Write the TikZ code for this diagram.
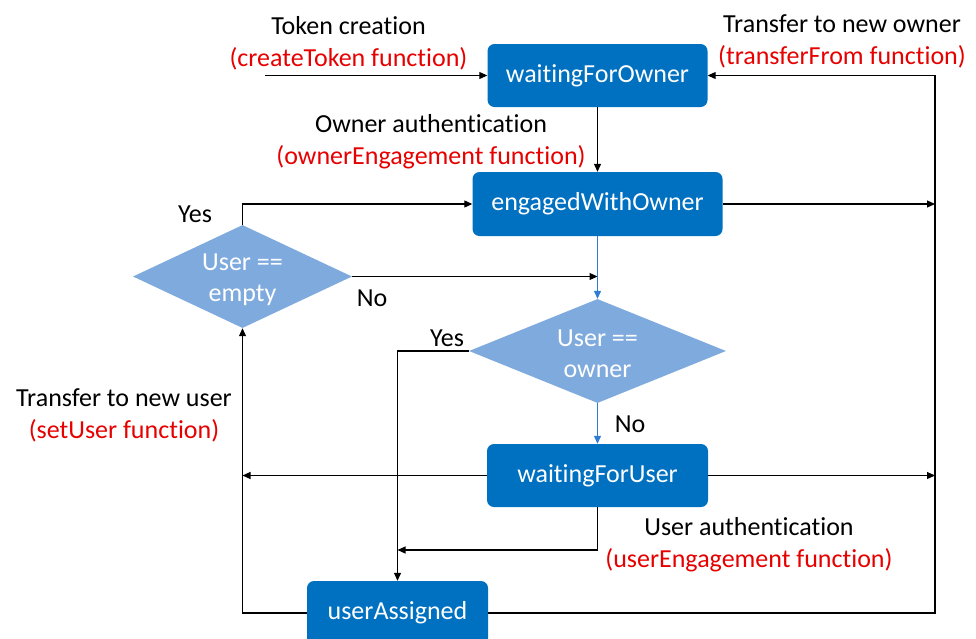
\documentclass[tikz,border=0pt]{standalone}
\usepackage{fontspec}
\setmainfont{Carlito}[Ligatures=NoCommon]
\usetikzlibrary{shapes.geometric,arrows.meta}
\definecolor{boxblue}{RGB}{0,112,192}
\definecolor{diablue}{RGB}{127,170,221}
\definecolor{flowblue}{RGB}{46,125,210}
\definecolor{fnred}{RGB}{230,0,0}

\begin{document}
\begin{tikzpicture}[x=1pt,y=-1pt,
  every node/.style={font=\fontsize{26}{32}\selectfont},
  state/.style={fill=boxblue, rounded corners=7pt, text=white, minimum height=63pt, inner sep=0pt},
  decision/.style={diamond, fill=diablue, inner sep=0pt},
  dtext/.style={text=white, align=center, inner sep=0pt, font=\fontsize{26}{31}\selectfont},
  conn/.style={line width=1.1pt, -{Triangle[length=8pt,width=7pt]}},
  lbl/.style={align=center, inner sep=0pt}]

\useasboundingbox (0,0) rectangle (976,638);
\clip (0,0) rectangle (976,638);

% states and decisions
\node[state, minimum width=220pt] (wfo) at (597.5,75.5) {waitingForOwner};
\node[state, minimum width=250pt, minimum height=64pt] (ewo) at (597.5,204) {engagedWithOwner};
\node[decision, minimum width=219pt, minimum height=103pt] (dEmpty) at (242.5,276.5) {};
\node[dtext] (tEmpty) at ([yshift=-3pt]dEmpty.center) {User ==\\empty};
\node[decision, minimum width=257pt, minimum height=104pt] (dOwner) at (597.5,351) {};
\node[dtext] (tOwner) at ([yshift=-3pt]dOwner.center) {User ==\\owner};
\node[state, minimum width=221pt] (wfu) at (597.5,475.5) {waitingForUser};
\node[state, minimum width=181pt, minimum height=64pt] (ua) at (397.5,613) {userAssigned};

% free ends and junctions
\coordinate (tokIn) at (265,75.5);
\coordinate (rtop) at (935,75.5);
\coordinate (join) at (397.5,550);

% connectors
\draw[conn] (tokIn) -- (wfo.west);
\draw[conn] (wfo.south) -- (ewo.north);
\draw[conn] (ua.east) -| (rtop) -- (wfo.east);
\draw[conn] (ewo.east) -- (ewo.east -| rtop);
\draw[conn] (wfu.east) -- (wfu.east -| rtop);
\draw[conn] (dEmpty.north) |- (ewo.west);
\draw[conn] (dEmpty.east) -- (dEmpty.east -| ewo.south);
\draw[conn, flowblue] (ewo.south) -- (dOwner.north);
\draw[conn, flowblue] (dOwner.south) -- (wfu.north);
\draw[conn] (dOwner.west) -| (ua.north);
\draw[conn] (wfu.south) |- (join);
\draw[conn] (wfu.west) -- (wfu.west -| dEmpty.south);
\draw[conn] (ua.west) -| (dEmpty.south);

% labels
\node[lbl] (lTok) at (348.5,43) {Token creation\\\textcolor{fnred}{(createToken function)}};
\node[lbl] (lOwnAuth) at (431,142) {Owner authentication\\\textcolor{fnred}{(ownerEngagement function)}};
\node[lbl] (lNewOwner) at (842,41.5) {Transfer to new owner\\\textcolor{fnred}{(transferFrom function)}};
\node[lbl] (lNewUser) at (124,415) {Transfer to new user\\\textcolor{fnred}{(setUser function)}};
\node[lbl] (lUserAuth) at (749,545) {User authentication\\\textcolor{fnred}{(userEngagement function)}};
\node (yes1) at (195,214) {Yes};
\node (no1) at (372,298) {No};
\node (yes2) at (447,338) {Yes};
\node (no2) at (630,424) {No};
\end{tikzpicture}
\end{document}
